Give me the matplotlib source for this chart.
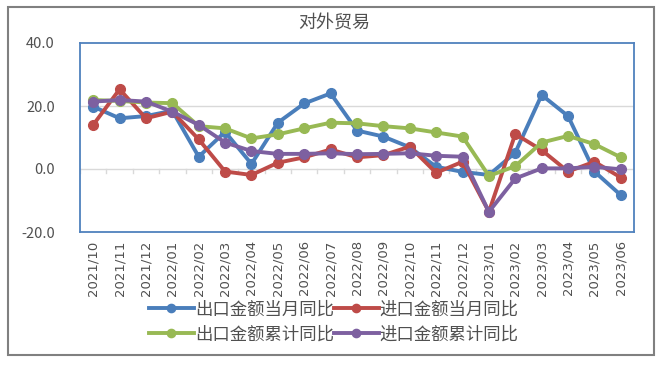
import matplotlib.pyplot as plt
from matplotlib.patches import Rectangle

plt.rcParams['font.family'] = ['Noto Sans CJK SC', 'DejaVu Sans']

months = ['2021/10', '2021/11', '2021/12', '2022/01', '2022/02', '2022/03', '2022/04',
          '2022/05', '2022/06', '2022/07', '2022/08', '2022/09', '2022/10', '2022/11',
          '2022/12', '2023/01', '2023/02', '2023/03', '2023/04', '2023/05', '2023/06']
export_month = [19.8, 16.1, 16.8, 18.5, 3.9, 11.8, 1.6, 14.7, 20.8, 24.0, 12.2, 10.3,
                6.9, 0.7, -0.9, -1.9, 5.2, 23.5, 16.8, -0.8, -8.3]
import_month = [14.0, 25.3, 16.1, 18.2, 9.4, -0.8, -1.9, 2.0, 3.7, 6.2, 3.7, 4.4,
                7.1, -1.2, 2.3, -13.6, 11.1, 6.0, -0.8, 2.3, -2.7]
export_cum = [21.9, 21.6, 21.1, 20.9, 13.6, 12.9, 9.7, 11.0, 12.9, 14.7, 14.5, 13.6,
              12.9, 11.6, 10.3, -2.2, 0.9, 8.4, 10.5, 7.9, 3.7]
import_cum = [21.4, 21.9, 21.4, 18.2, 14.0, 8.4, 5.7, 4.8, 4.8, 5.0, 4.7, 4.8,
              5.0, 4.2, 3.9, -13.6, -3.0, 0.2, 0.2, 0.7, -0.1]

series = [
    ('出口金额当月同比', export_month, '#4A7EBB'),
    ('进口金额当月同比', import_month, '#BE4B48'),
    ('出口金额累计同比', export_cum, '#98B954'),
    ('进口金额累计同比', import_cum, '#7D60A0'),
]

fig = plt.figure(figsize=(6.63, 3.65), dpi=100)
fig.patches.append(Rectangle((8 / 663, 10 / 365), 646 / 663, 348 / 365, transform=fig.transFigure,
                             fill=False, edgecolor='#808080', linewidth=1.5))
ax = fig.add_axes([80 / 663, 133 / 365, 554 / 663, 189 / 365])

x = list(range(len(months)))
handles = []
for name, vals, col in series:
    h, = ax.plot(x, vals, color=col, linewidth=2.8, marker='o', markersize=7, label=name, zorder=3)
    handles.append(h)

ax.set_xlim(-0.5, len(months) - 0.5)
ax.set_ylim(-20, 40)
ax.set_yticks([-20, 0, 20, 40])
ax.set_yticklabels(['-20.0', '0.0', '20.0', '40.0'])
ax.axhline(20, color='#D9D9D9', linewidth=1, zorder=1)
ax.axhline(0, color='#D9D9D9', linewidth=1, zorder=1)
for i in range(len(months) + 1):
    ax.plot([i - 0.5, i - 0.5], [0, -1.2], color='#D9D9D9', linewidth=1, zorder=1)

ax.set_xticks(x)
ax.set_xticklabels(months, rotation=90, fontsize=9.5, color='#505050', family='DejaVu Sans')
ax.tick_params(axis='both', length=0, pad=6)
ax.tick_params(axis='y', labelsize=10.5, labelcolor='#505050', pad=18)
for s in ax.spines.values():
    s.set_color('#4F81BD')
    s.set_linewidth(1.3)

fig.text(334 / 663, 1 - 23 / 365, '对外贸易', ha='center', va='center', fontsize=13, color='#505050')

# order so rows read: blue, red / green, purple
order = [0, 2, 1, 3]
ax.legend([handles[i] for i in order], [series[i][0] for i in order],
          loc='upper center', bbox_to_anchor=(0.458, -0.362), ncol=2, frameon=False,
          fontsize=12.5, handlelength=2.6, columnspacing=0.0, handletextpad=0.05,
          labelspacing=0.4, borderpad=0, borderaxespad=0, markerscale=0.85,
          labelcolor='#505050')

fig.savefig('out.png', dpi=100)
